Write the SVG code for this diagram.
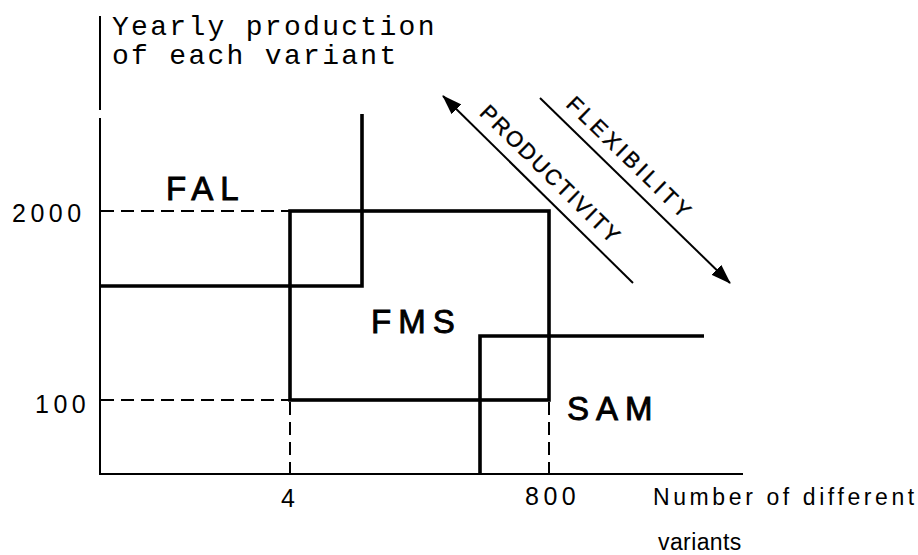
<svg xmlns="http://www.w3.org/2000/svg" width="918" height="555" viewBox="0 0 918 555">
<style>
.axis{stroke:#000;stroke-width:2;fill:none}
.dash{stroke:#000;stroke-width:2;fill:none;stroke-dasharray:13 7}
.thick{stroke:#000;stroke-width:3.6;fill:none;stroke-linejoin:miter}
.thin{stroke:#000;stroke-width:2;fill:none}
.mono{font-family:"Liberation Mono","Courier New",monospace;font-size:28px;letter-spacing:2.3px;fill:#000}
.num{font-family:"Liberation Sans",Arial,sans-serif;font-size:25px;letter-spacing:4.5px;fill:#000}
.lbl{font-family:"Liberation Sans",Arial,sans-serif;font-size:33px;letter-spacing:7px;fill:#000;stroke:#000;stroke-width:0.9}
.xl{font-family:"Liberation Sans",Arial,sans-serif;font-size:23px;fill:#000}
.dia{font-family:"Liberation Sans",Arial,sans-serif;font-size:22px;fill:#000;stroke:#000;stroke-width:0.4}
</style>
<defs>
<marker id="ah" viewBox="0 0 20 14" refX="19" refY="7" markerWidth="20" markerHeight="14" markerUnits="userSpaceOnUse" orient="auto">
<path d="M0,0 L20,7 L0,14 Z" fill="#000"/>
</marker>
</defs>
<g id="axes">
<line class="axis" x1="100" y1="16" x2="100" y2="110"/>
<line class="axis" x1="100" y1="118" x2="100" y2="475"/>
<line class="axis" x1="99" y1="474" x2="743" y2="474"/>
<text class="mono" x="112" y="35">Yearly production</text>
<text class="mono" x="112" y="64">of each variant</text>
<text class="num" x="12" y="222">2000</text>
<text class="num" x="35" y="413">100</text>
<text class="num" x="281" y="507">4</text>
<text class="num" x="525" y="505">800</text>
<text class="xl" x="653" y="505" letter-spacing="3.6">Number of different</text>
<text class="xl" x="658" y="550" letter-spacing="0.4">variants</text>
<line class="dash" x1="101" y1="211" x2="290" y2="211"/>
<line class="dash" x1="101" y1="400" x2="290" y2="400"/>
<line class="dash" x1="290" y1="402" x2="290" y2="473"/>
<line class="dash" x1="549" y1="402" x2="549" y2="473"/>
</g>
<g id="FAL">
<polyline class="thick" points="100,286 362,286 362,114"/>
<text class="lbl" x="166" y="200">FAL</text>
</g>
<g id="FMS">
<rect class="thick" x="290" y="211" width="259" height="189"/>
<text class="lbl" x="371" y="333">FMS</text>
</g>
<g id="SAM">
<polyline class="thick" points="480,474 480,336 704,336"/>
<text class="lbl" x="567" y="420">SAM</text>
</g>
<g id="connectors">
<line class="thin" x1="633" y1="283" x2="443" y2="96" marker-end="url(#ah)"/>
<line class="thin" x1="540" y1="98" x2="730" y2="283" marker-end="url(#ah)"/>
<text class="dia" letter-spacing="2" transform="translate(478.5,114) rotate(44.5)">PRODUCTIVITY</text>
<text class="dia" letter-spacing="3.5" transform="translate(565,105.4) rotate(44.3)">FLEXIBILITY</text>
</g>
</svg>
